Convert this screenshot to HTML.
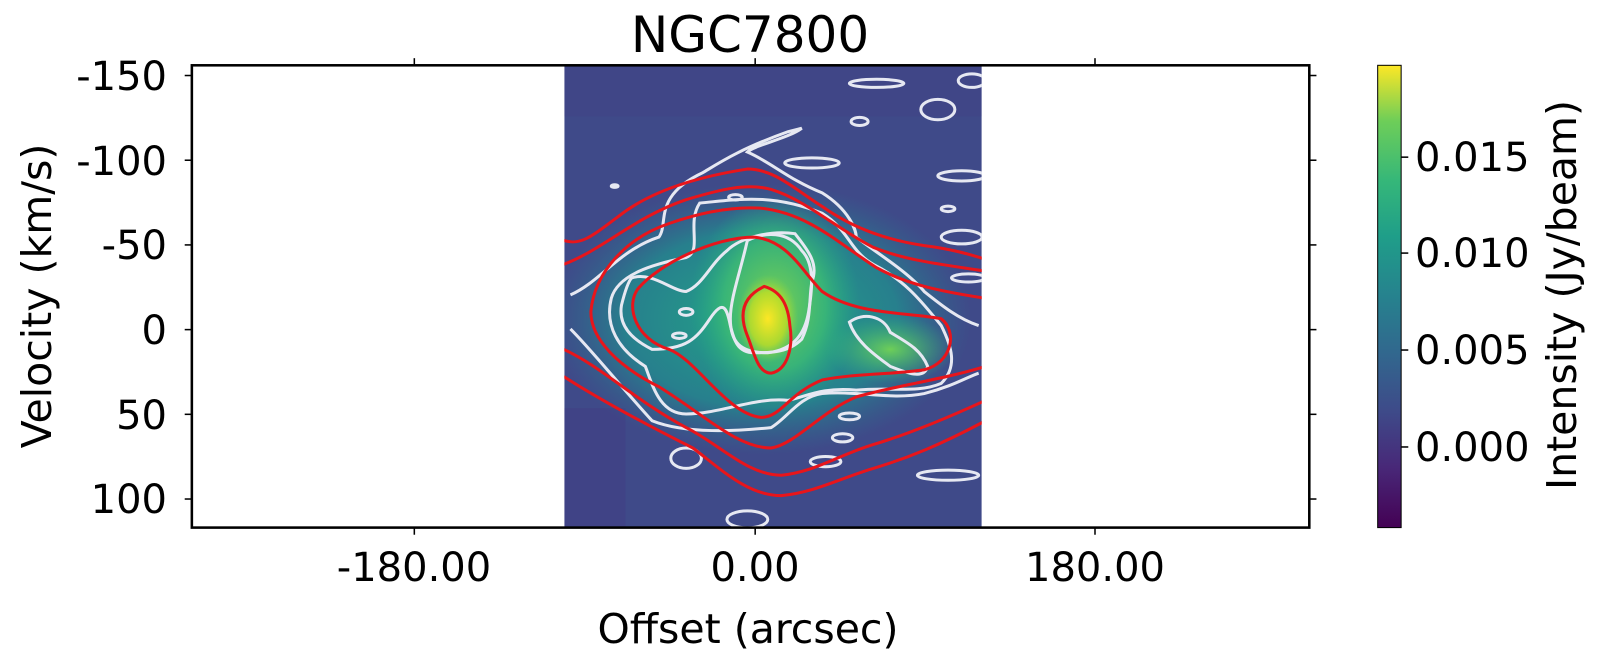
<!DOCTYPE html>
<html><head><meta charset="utf-8"><style>
html,body{margin:0;padding:0;background:#fff;}
svg{display:block;font-family:"DejaVu Sans","Liberation Sans",sans-serif;}
</style></head><body>
<svg width="1599" height="667" viewBox="0 0 1599 667" xmlns="http://www.w3.org/2000/svg">
<defs>
<clipPath id="ic"><rect x="553" y="64" width="409" height="453"/></clipPath>
<radialGradient id="g1"><stop offset="0" stop-color="#22a785" stop-opacity="1"/><stop offset="0.65" stop-color="#23898e" stop-opacity="0.85"/><stop offset="1" stop-color="#2c718e" stop-opacity="0"/></radialGradient>
<radialGradient id="g2"><stop offset="0" stop-color="#7ad151"/><stop offset="0.6" stop-color="#3dbc74" stop-opacity="0.8"/><stop offset="1" stop-color="#22a884" stop-opacity="0"/></radialGradient>
<radialGradient id="g3"><stop offset="0" stop-color="#fde725"/><stop offset="0.6" stop-color="#c2df23" stop-opacity="0.8"/><stop offset="1" stop-color="#86d549" stop-opacity="0"/></radialGradient>
<radialGradient id="g4"><stop offset="0" stop-color="#6ece58"/><stop offset="1" stop-color="#35b779" stop-opacity="0"/></radialGradient>
<linearGradient id="vir" x1="0" y1="1" x2="0" y2="0">
<stop offset="0" stop-color="#440154"/><stop offset="0.13" stop-color="#482878"/><stop offset="0.25" stop-color="#3e4a89"/><stop offset="0.38" stop-color="#31688e"/><stop offset="0.5" stop-color="#26828e"/><stop offset="0.63" stop-color="#1f9e89"/><stop offset="0.75" stop-color="#35b779"/><stop offset="0.88" stop-color="#6ece58"/><stop offset="1" stop-color="#fde725"/>
</linearGradient>
</defs>
<g transform="scale(1.0205)">
<g clip-path="url(#ic)">
<rect x="553" y="64" width="409" height="453" fill="#3f4a89"/>
<rect x="553" y="400" width="60" height="117" fill="#443a83" opacity="0.4"/>
<rect x="553" y="64" width="409" height="50" fill="#433e85" opacity="0.35"/>
<g transform="translate(539,59) scale(0.33333)">
<ellipse cx="620" cy="760" rx="620" ry="400" fill="url(#g1)"/>
<ellipse cx="660" cy="720" rx="250" ry="320" fill="url(#g2)"/>
<ellipse cx="1000" cy="850" rx="190" ry="100" fill="url(#g4)"/>
<ellipse cx="640" cy="760" rx="90" ry="130" fill="url(#g3)"/>
<g fill="none" stroke="#e6e8f2" stroke-width="3">
<path vector-effect="non-scaling-stroke" d="M60,690 C150,650 200,560 320,520 C350,480 300,400 450,330 C500,300 560,260 700,210 L740,200 C700,230 600,250 580,270 C650,300 700,350 800,390 C880,440 900,500 900,520 C950,560 1050,620 1100,680 C1150,720 1200,760 1260,780"/>
<path vector-effect="non-scaling-stroke" d="M60,790 C120,850 200,950 300,1060 C400,1100 550,1090 650,1080 C700,1050 730,990 800,980 C900,970 1000,1000 1100,980 C1180,960 1230,930 1260,920"/>
<path vector-effect="non-scaling-stroke" d="M440,420 C550,410 650,390 800,450 C880,500 880,560 950,600 C1050,650 1100,720 1150,780 C1180,840 1200,900 1150,950 C1080,980 1000,960 900,970 C800,960 750,990 700,1000 C600,990 500,1040 400,1040 C320,1040 300,950 280,900 C200,850 160,780 180,700 C200,630 300,600 400,580 C450,560 400,480 440,420Z"/>
<path vector-effect="non-scaling-stroke" d="M240,640 C300,620 360,680 400,680 C450,660 470,600 520,560 C560,520 650,500 720,510 C760,560 790,600 770,650 C760,700 770,760 740,820 C700,860 650,860 600,860 C550,860 540,820 530,780 C520,730 510,700 470,760 C430,820 400,850 300,850 C240,820 200,780 210,720 C220,680 230,650 240,640Z"/>
<path vector-effect="non-scaling-stroke" d="M580,530 C630,505 700,500 740,560 C780,600 770,680 760,740 C750,800 720,850 640,860 C560,860 530,830 530,760 C530,700 560,620 580,530Z"/>
<path vector-effect="non-scaling-stroke" d="M880,770 C920,740 980,750 1000,800 C1050,830 1090,850 1110,900 C1100,940 1050,920 1000,900 C960,870 900,830 880,770Z"/>
<ellipse vector-effect="non-scaling-stroke" cx="960" cy="68" rx="80" ry="12"/>
<ellipse vector-effect="non-scaling-stroke" cx="1140" cy="145" rx="50" ry="30"/>
<ellipse vector-effect="non-scaling-stroke" cx="910" cy="180" rx="25" ry="12"/>
<ellipse vector-effect="non-scaling-stroke" cx="770" cy="302" rx="80" ry="15"/>
<ellipse vector-effect="non-scaling-stroke" cx="1170" cy="437" rx="20" ry="8"/>
<ellipse vector-effect="non-scaling-stroke" cx="545" cy="403" rx="20" ry="8"/>
<ellipse vector-effect="non-scaling-stroke" cx="190" cy="370" rx="10" ry="4"/>
<ellipse vector-effect="non-scaling-stroke" cx="400" cy="740" rx="20" ry="10"/>
<ellipse vector-effect="non-scaling-stroke" cx="380" cy="810" rx="20" ry="8"/>
<ellipse vector-effect="non-scaling-stroke" cx="880" cy="1047" rx="30" ry="10"/>
<ellipse vector-effect="non-scaling-stroke" cx="860" cy="1110" rx="30" ry="12"/>
<ellipse vector-effect="non-scaling-stroke" cx="810" cy="1180" rx="45" ry="15"/>
<ellipse vector-effect="non-scaling-stroke" cx="400" cy="1170" rx="45" ry="30"/>
<ellipse vector-effect="non-scaling-stroke" cx="1170" cy="1220" rx="90" ry="15"/>
<ellipse vector-effect="non-scaling-stroke" cx="580" cy="1350" rx="60" ry="25"/>
<ellipse vector-effect="non-scaling-stroke" cx="1210" cy="340" rx="70" ry="15"/>
<ellipse vector-effect="non-scaling-stroke" cx="1210" cy="520" rx="60" ry="20"/>
<ellipse vector-effect="non-scaling-stroke" cx="1230" cy="640" rx="50" ry="12"/>
<ellipse vector-effect="non-scaling-stroke" cx="1240" cy="60" rx="40" ry="20"/>
</g>
<g fill="none" stroke="#e8151b" stroke-width="3">
<path vector-effect="non-scaling-stroke" d="M630,665 C680,680 700,720 705,780 C715,840 700,910 650,920 C610,920 600,860 580,810 C560,760 555,700 630,665Z"/>
<path vector-effect="non-scaling-stroke" d="M600,520 C700,530 740,620 800,680 C900,750 1050,740 1150,760 C1200,800 1180,890 1100,910 C1000,925 900,920 800,940 C700,980 680,1050 620,1050 C520,1040 430,880 350,850 C250,820 220,720 260,670 C320,600 480,520 600,520Z"/>
<path vector-effect="non-scaling-stroke" d="M620,435 C760,450 850,540 960,610 C1050,660 1150,680 1280,700 L1280,900 C1150,940 1000,960 900,990 C800,1030 720,1130 650,1140 C550,1140 450,1040 320,960 C200,900 120,820 120,740 C130,620 230,520 350,480 C450,445 540,430 620,435Z"/>
<path vector-effect="non-scaling-stroke" d="M40,600 C150,560 250,460 400,410 C500,380 580,360 650,380 C750,410 850,500 950,550 C1050,590 1150,600 1280,620"/>
<path vector-effect="non-scaling-stroke" d="M40,850 C150,900 250,1000 400,1080 C500,1130 580,1220 680,1220 C780,1210 850,1160 950,1130 C1050,1100 1150,1060 1280,1000"/>
<path vector-effect="non-scaling-stroke" d="M40,530 C90,545 120,520 200,460 C300,380 450,340 580,320 C660,320 720,380 800,430 C900,500 1000,530 1100,545 C1180,555 1230,570 1280,585"/>
<path vector-effect="non-scaling-stroke" d="M40,930 C150,1000 300,1080 420,1140 C500,1200 580,1280 680,1280 C780,1270 850,1230 950,1200 C1050,1170 1150,1130 1280,1060"/>
</g>
</g>
</g>
<rect x="188" y="64" width="1095" height="453" fill="none" stroke="#000" stroke-width="2.5"/>
<g stroke="#000" stroke-width="1.5">
<line x1="181" y1="74" x2="188" y2="74"/><line x1="181" y1="157" x2="188" y2="157"/><line x1="181" y1="240" x2="188" y2="240"/><line x1="181" y1="323" x2="188" y2="323"/><line x1="181" y1="406" x2="188" y2="406"/><line x1="181" y1="489" x2="188" y2="489"/>
<line x1="1283" y1="74" x2="1290" y2="74"/><line x1="1283" y1="157" x2="1290" y2="157"/><line x1="1283" y1="240" x2="1290" y2="240"/><line x1="1283" y1="323" x2="1290" y2="323"/><line x1="1283" y1="406" x2="1290" y2="406"/><line x1="1283" y1="489" x2="1290" y2="489"/>
<line x1="406" y1="517" x2="406" y2="524"/><line x1="740" y1="517" x2="740" y2="524"/><line x1="1073" y1="517" x2="1073" y2="524"/>
<line x1="406" y1="57" x2="406" y2="64"/><line x1="740" y1="57" x2="740" y2="64"/><line x1="1073" y1="57" x2="1073" y2="64"/>
</g>
<rect x="1350" y="64" width="23" height="453" fill="url(#vir)" stroke="#000" stroke-width="1"/>
<g stroke="#000" stroke-width="1.5">
<line x1="1373" y1="154" x2="1380" y2="154"/><line x1="1373" y1="248" x2="1380" y2="248"/><line x1="1373" y1="343" x2="1380" y2="343"/><line x1="1373" y1="438" x2="1380" y2="438"/>
</g>
</g>
<text x="750" y="52" font-size="50" text-anchor="middle">NGC7800</text>
<g font-size="40" text-anchor="end">
<text x="167" y="90">-150</text><text x="167" y="175">-100</text><text x="167" y="259">-50</text><text x="167" y="344">0</text><text x="167" y="429">50</text><text x="167" y="513">100</text>
</g>
<g font-size="40" text-anchor="middle">
<text x="414" y="581">-180.00</text><text x="755" y="581">0.00</text><text x="1095" y="581">180.00</text>
</g>
<g font-size="41" text-anchor="middle">
<text x="748" y="643">Offset (arcsec)</text>
<text transform="translate(51,296) rotate(-90)">Velocity (km/s)</text>
<text transform="translate(1576,295) rotate(-90)">Intensity (Jy/beam)</text>
</g>
<g font-size="40">
<text x="1415" y="171">0.015</text><text x="1415" y="267">0.010</text><text x="1415" y="364">0.005</text><text x="1415" y="461">0.000</text>
</g>
</svg>
</body></html>
